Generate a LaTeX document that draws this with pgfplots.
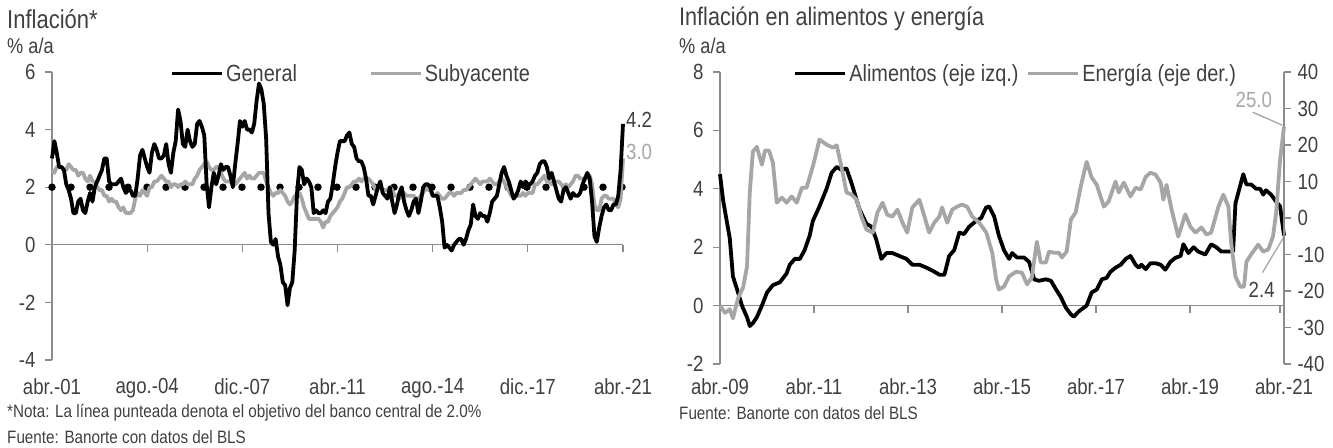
\documentclass[border=0pt]{standalone}
\usepackage{fontspec}
\setmainfont[FakeStretch=0.85]{Liberation Sans}
\usepackage{pgfplots}
\usepackage{pgfplotstable}
\pgfplotsset{compat=1.18}
\definecolor{txt}{HTML}{404040}
\definecolor{axg}{HTML}{8C8C8C}
\definecolor{lg}{HTML}{A6A6A6}

% Headline CPI, % y/y, monthly from Apr-2001 to Apr-2021
\pgfplotstableread[row sep=\\]{g\\
3.0\\3.6\\3.2\\2.7\\2.7\\2.6\\2.1\\1.9\\1.6\\
1.1\\1.1\\1.5\\1.6\\1.2\\1.1\\1.5\\1.8\\1.5\\2.0\\2.2\\2.4\\
2.6\\3.0\\3.0\\2.2\\2.1\\2.1\\2.1\\2.2\\2.3\\2.0\\1.8\\1.9\\
1.9\\1.7\\1.7\\2.3\\3.1\\3.3\\3.0\\2.7\\2.5\\3.2\\3.5\\3.3\\
3.0\\3.0\\3.1\\3.5\\2.8\\2.5\\3.2\\3.6\\4.7\\4.3\\3.5\\3.4\\
4.0\\3.6\\3.4\\3.5\\4.2\\4.3\\4.1\\3.8\\2.1\\1.3\\2.0\\2.5\\
2.1\\2.4\\2.8\\2.6\\2.7\\2.7\\2.4\\2.0\\2.8\\3.5\\4.3\\4.1\\
4.3\\4.0\\4.0\\3.9\\4.2\\5.0\\5.6\\5.4\\4.9\\3.7\\1.1\\0.1\\
0.0\\0.2\\-0.4\\-0.7\\-1.3\\-1.4\\-2.1\\-1.5\\-1.3\\-0.2\\1.8\\2.7\\
2.6\\2.1\\2.3\\2.2\\2.0\\1.1\\1.2\\1.1\\1.1\\1.2\\1.1\\1.5\\
1.6\\2.1\\2.7\\3.2\\3.6\\3.6\\3.6\\3.8\\3.9\\3.5\\3.4\\3.0\\
2.9\\2.9\\2.7\\2.3\\1.7\\1.7\\1.4\\1.7\\2.0\\2.2\\1.8\\1.7\\
1.6\\2.0\\1.5\\1.1\\1.4\\1.8\\2.0\\1.5\\1.2\\1.0\\1.2\\1.5\\
1.6\\1.1\\1.5\\2.0\\2.1\\2.1\\2.0\\1.7\\1.7\\1.7\\1.3\\0.8\\
-0.1\\0.0\\-0.1\\-0.2\\0.0\\0.1\\0.2\\0.2\\0.0\\0.2\\0.5\\0.7\\
1.4\\1.0\\0.9\\1.1\\1.0\\1.0\\0.8\\1.1\\1.5\\1.6\\1.7\\2.1\\
2.5\\2.7\\2.4\\2.2\\1.9\\1.6\\1.7\\1.9\\2.2\\2.0\\2.2\\2.1\\
2.1\\2.2\\2.4\\2.5\\2.8\\2.9\\2.9\\2.7\\2.3\\2.5\\2.2\\1.9\\
1.6\\1.5\\1.9\\2.0\\1.8\\1.6\\1.8\\1.7\\1.7\\1.8\\2.1\\2.3\\
2.5\\2.3\\1.5\\0.3\\0.1\\0.6\\1.0\\1.3\\1.4\\1.2\\1.2\\1.4\\
1.4\\1.7\\2.6\\4.2\\
}\general

% Core CPI, % y/y, monthly from Apr-2001 to Apr-2021
\pgfplotstableread[row sep=\\]{c\\
2.6\\2.5\\2.7\\2.7\\2.7\\2.6\\2.6\\2.8\\2.7\\
2.6\\2.6\\2.4\\2.5\\2.5\\2.3\\2.2\\2.4\\2.2\\2.2\\2.0\\1.9\\
1.9\\1.7\\1.7\\1.5\\1.6\\1.5\\1.5\\1.3\\1.2\\1.3\\1.1\\1.1\\
1.1\\1.2\\1.6\\1.8\\1.7\\1.9\\1.8\\1.7\\2.0\\2.0\\2.2\\2.2\\
2.3\\2.4\\2.3\\2.2\\2.2\\2.0\\2.1\\2.1\\2.0\\2.1\\2.1\\2.2\\
2.1\\2.1\\2.1\\2.3\\2.4\\2.6\\2.7\\2.8\\2.9\\2.7\\2.6\\2.6\\
2.7\\2.7\\2.5\\2.3\\2.2\\2.2\\2.2\\2.1\\2.1\\2.2\\2.3\\2.4\\
2.5\\2.3\\2.4\\2.3\\2.3\\2.4\\2.5\\2.5\\2.5\\2.2\\2.0\\1.8\\
1.7\\1.8\\1.8\\1.9\\1.8\\1.7\\1.5\\1.4\\1.5\\1.7\\1.7\\1.8\\
1.6\\1.3\\1.1\\0.9\\0.9\\0.9\\0.9\\0.9\\0.8\\0.6\\0.8\\0.8\\
1.0\\1.1\\1.2\\1.3\\1.5\\1.6\\1.8\\2.0\\2.0\\2.1\\2.2\\2.2\\
2.3\\2.2\\2.3\\2.3\\2.3\\2.2\\2.1\\1.9\\2.0\\2.0\\1.9\\1.9\\
1.9\\2.0\\1.9\\1.7\\1.7\\1.6\\1.7\\1.8\\1.7\\1.7\\1.7\\1.7\\
1.6\\1.6\\1.7\\1.8\\2.0\\1.9\\1.9\\1.7\\1.7\\1.8\\1.7\\1.6\\
1.6\\1.7\\1.8\\1.8\\1.7\\1.8\\1.8\\1.8\\1.9\\1.9\\2.0\\2.1\\
2.2\\2.3\\2.2\\2.1\\2.2\\2.2\\2.2\\2.3\\2.2\\2.1\\2.1\\2.2\\
2.3\\2.2\\2.0\\1.9\\1.7\\1.7\\1.7\\1.7\\1.7\\1.8\\1.7\\1.8\\
1.8\\1.8\\2.1\\2.1\\2.2\\2.3\\2.4\\2.2\\2.2\\2.1\\2.2\\2.2\\
2.2\\2.1\\2.0\\2.1\\2.0\\2.1\\2.2\\2.4\\2.4\\2.3\\2.3\\2.3\\
2.3\\2.4\\2.1\\1.4\\1.2\\1.2\\1.6\\1.7\\1.7\\1.6\\1.6\\1.6\\
1.4\\1.3\\1.6\\3.0\\
}\core

\pgfplotsset{
  base/.style={
    scale only axis, clip=false,
    axis line style={axg, line width=1.3bp, -},
    tick style={axg, line width=1.3bp},
    tick align=outside, major tick length=7bp,
    ticklabel style={text=txt, font=\fontsize{22}{22}\selectfont},
    legend style={draw=none, fill=none, inner sep=0pt, legend columns=-1,
      font=\fontsize{23.5}{23.5}\selectfont, text=txt,
      nodes={inner sep=2bp}},
    legend cell align=left,
    legend image code/.code={\draw[##1] (0bp,0bp) -- (50bp,0bp);},
  },
}

\begin{document}
\begin{tikzpicture}
\useasboundingbox (0bp,0bp) rectangle (1333bp,-448bp);

% ---------- Left panel ----------
\node[anchor=west, inner sep=0pt, text=txt, font=\fontsize{26}{26}\selectfont] at (7bp,-19bp) {Inflación*};
\node[anchor=west, inner sep=0pt, text=txt, font=\fontsize{21.5}{21.5}\selectfont] at (7bp,-46bp) {\% a/a};
\node[anchor=west, inner sep=0pt, text=txt, font=\fontsize{18}{18}\selectfont] at (7bp,-413bp) {*Nota: La línea punteada denota el objetivo del banco central de 2.0\%};
\node[anchor=west, inner sep=0pt, text=txt, font=\fontsize{18}{18}\selectfont] at (7bp,-437bp) {Fuente: Banorte con datos del BLS};

\begin{axis}[base,
  at={(52bp,-360bp)}, anchor=south west,
  width=571bp, height=288bp,
  xmin=0, xmax=240, ymin=-4, ymax=6,
  axis y line*=left, axis x line*=bottom,
  x axis line style={draw=none},
  xtick={0,40,80,120,160,200,240},
  xticklabels={abr.-01,ago.-04,dic.-07,abr.-11,ago.-14,dic.-17,abr.-21},
  x tick style={draw=none},
  xticklabel style={yshift=-8bp},
  ytick={-4,-2,0,2,4,6},
  yticklabels={-4,-2,0,2,4,6},
  yticklabel style={xshift=-6bp},
  legend style={at={(0.207,0.995)}, anchor=west,
    /tikz/every even column/.append style={column sep=70bp}},
]
\draw[axg, line width=1.3bp] (axis cs:0,0) -- (axis cs:240,0);
\draw[axg, line width=1.3bp] (axis cs:40,0) -- ++(0bp,-7bp);
\draw[axg, line width=1.3bp] (axis cs:80,0) -- ++(0bp,-7bp);
\draw[axg, line width=1.3bp] (axis cs:120,0) -- ++(0bp,-7bp);
\draw[axg, line width=1.3bp] (axis cs:160,0) -- ++(0bp,-7bp);
\draw[axg, line width=1.3bp] (axis cs:200,0) -- ++(0bp,-7bp);
\draw[axg, line width=1.3bp] (axis cs:240,0) -- ++(0bp,-7bp);
\addplot[black, line width=7.5bp, line cap=round, dash pattern=on 0bp off 19bp, forget plot] coordinates {(0,2) (240,2)};
\addplot[lg, line width=3.8bp, line join=round, forget plot] table[x expr=\coordindex, y=c] {\core};
\addplot[black, line width=3.8bp, line join=round, forget plot] table[x expr=\coordindex, y=g] {\general};
\addlegendimage{black, line width=3.8bp}
\addlegendentry{General}
\addlegendimage{lg, line width=3.8bp}
\addlegendentry{Subyacente}
\node[anchor=west, inner sep=0pt, text=txt, font=\fontsize{22}{22}\selectfont] at (axis cs:240,4.35) {\hspace{3bp}4.2};
\node[anchor=west, inner sep=0pt, text=lg, font=\fontsize{22}{22}\selectfont] at (axis cs:240,3.22) {\hspace{3bp}3.0};
\end{axis}

% ---------- Right panel ----------
\node[anchor=west, inner sep=0pt, text=txt, font=\fontsize{25.5}{25.5}\selectfont] at (679bp,-19bp) {Inflación en alimentos y energía};
\node[anchor=west, inner sep=0pt, text=txt, font=\fontsize{21.5}{21.5}\selectfont] at (679bp,-46bp) {\% a/a};
\node[anchor=west, inner sep=0pt, text=txt, font=\fontsize{18}{18}\selectfont] at (679bp,-413bp) {Fuente: Banorte con datos del BLS};

\begin{axis}[base,
  at={(720bp,-364bp)}, anchor=south west,
  width=564bp, height=292bp,
  xmin=0, xmax=144, ymin=-2, ymax=8,
  axis y line*=left, axis x line*=bottom,
  x axis line style={draw=none},
  xtick={0,24,48,72,96,120,144},
  xticklabels={abr.-09,abr.-11,abr.-13,abr.-15,abr.-17,abr.-19,abr.-21},
  x tick style={draw=none},
  xticklabel style={yshift=-4bp},
  ytick={-2,0,2,4,6,8},
  yticklabels={-2,0,2,4,6,8},
  yticklabel style={xshift=-6bp},
  legend style={at={(0.13,0.995)}, anchor=west,
    /tikz/every even column/.append style={column sep=6bp}},
]
\draw[axg, line width=1.3bp] (axis cs:0,0) -- (axis cs:144,0);
\draw[axg, line width=1.3bp] (axis cs:24,0) -- ++(0bp,-7bp);
\draw[axg, line width=1.3bp] (axis cs:48,0) -- ++(0bp,-7bp);
\draw[axg, line width=1.3bp] (axis cs:72,0) -- ++(0bp,-7bp);
\draw[axg, line width=1.3bp] (axis cs:96,0) -- ++(0bp,-7bp);
\draw[axg, line width=1.3bp] (axis cs:120,0) -- ++(0bp,-7bp);
\draw[axg, line width=1.3bp] (axis cs:143,0) -- ++(0bp,-7bp);
\addplot[black, line width=3.8bp, line join=round, forget plot] coordinates {
(0,4.5)(0.8,3.6)(2.5,2.3)(3.3,1.0)(4.6,0.45)(5.6,0.0)(6.9,-0.4)(7.6,-0.7)(8.4,-0.6)(9.4,-0.4)
(10.7,0.0)(12,0.45)(13.5,0.7)(15.3,0.8)(17,1.1)(17.8,1.4)(19.1,1.6)(20.4,1.6)(21.6,1.9)(22.9,2.4)
(23.7,2.9)(25.4,3.4)(27.2,4.0)(28.5,4.55)(29.8,4.75)(31,4.65)(32.3,4.7)(33.8,4.1)(35.6,3.3)(37.4,2.8)
(38.7,2.7)(39.9,2.26)(41.2,1.6)(42.5,1.8)(44,1.8)(45.8,1.7)(47.6,1.6)(49.1,1.4)(50.9,1.4)(52.7,1.3)
(54.2,1.2)(56,1.06)(57.3,1.06)(58.5,1.7)(59.8,1.9)(61.1,2.5)(62.3,2.45)(63.6,2.7)(65.4,2.9)(66.7,3.0)
(67.9,3.35)(68.7,3.4)(70,3.05)(71.2,2.4)(72.5,1.9)(73.8,1.6)(74.6,1.8)(75.8,1.65)(77.6,1.65)(78.9,1.5)
(80.2,0.9)(81.4,0.85)(83.2,0.9)(84.5,0.85)(85.8,0.55)(87,0.3)(88.3,-0.07)(89.6,-0.3)(90.3,-0.38)(91.6,-0.2)
(92.9,-0.07)(93.6,0.0)(94.9,0.45)(96.2,0.55)(97.5,0.9)(98.7,0.95)(99.7,1.16)(101,1.3)(102.3,1.4)(103.6,1.6)
(104.8,1.7)(106.1,1.4)(106.9,1.3)(107.6,1.4)(108.7,1.25)(109.9,1.45)(111.2,1.45)(112.5,1.4)(113.7,1.23)(115,1.5)
(116.3,1.64)(117.6,1.7)(118.3,2.1)(119.6,1.8)(120.9,2.0)(122.1,1.85)(123.9,1.75)(125.4,2.1)(126.7,2.0)(128,1.85)
(129.8,1.85)(131,1.85)(131.6,3.5)(132.8,4.1)(133.6,4.5)(134.4,4.15)(135.6,4.15)(136.9,4.0)(137.9,4.0)(138.7,3.8)
(139.4,3.95)(140.7,3.8)(142,3.56)(143,3.4)(144,2.4)};
\addlegendimage{black, line width=3.8bp}
\addlegendentry{Alimentos (eje izq.)}
\addlegendimage{lg, line width=3.8bp}
\addlegendentry{Energía (eje der.)}
\draw[lg, line width=1.3bp] (axis cs:138.5,1.13) -- (axis cs:144,2.36);
\node[inner sep=0pt, text=txt, font=\fontsize{22}{22}\selectfont] at (axis cs:138.3,0.55) {2.4};
\end{axis}

\begin{axis}[base,
  at={(720bp,-364bp)}, anchor=south west,
  width=564bp, height=292bp,
  xmin=0, xmax=144, ymin=-40, ymax=40,
  axis y line*=right, axis x line=none,
  ytick={-40,-30,-20,-10,0,10,20,30,40},
  yticklabels={-40,-30,-20,-10,0,10,20,30,40},
  yticklabel style={xshift=3bp},
]
\addplot[lg, line width=3.8bp, line join=round] coordinates {
(0,-24)(1.3,-26)(2.5,-25)(3.3,-27.5)(4.6,-22)(5.9,-19)(6.9,-13.3)(7.6,7)(8.4,18.2)(9.4,19.5)
(10.7,14.6)(11.5,18.5)(12.5,18.5)(13.5,15.2)(14.5,4.2)(15.8,5.6)(17,4.2)(18.3,5.9)(19.6,4.2)(20.9,8.3)
(22.1,8.3)(23.7,14.1)(25.4,21.5)(27.2,20.1)(28.8,19.3)(29.8,19.9)(31,14.1)(32.3,7)(33.6,6.4)(34.9,5)
(36.1,0.4)(37.4,-3.2)(39,-4)(40.2,1.5)(41.5,4.2)(42.7,0.9)(44,0.4)(45.3,2.3)(46.6,-1.3)(47.8,-4)
(49.1,2.9)(50.9,5)(52.2,0.4)(53.4,-4)(54.7,-1.3)(56,0.4)(56.7,2.9)(58,-1.3)(59.3,2.3)(60.5,3.1)
(61.8,3.7)(63.1,3.1)(64.4,0.4)(66.2,-1.3)(68,-4)(69.5,-9.5)(70.5,-16.8)(71.2,-19.6)(72.5,-18.8)(73.8,-16)
(75.6,-14.7)(77.1,-15)(78.4,-18.2)(79.6,-16.3)(80.9,-6.5)(81.9,-12.2)(83.2,-12.2)(84,-9.2)(85.2,-9.5)(86.5,-9.5)
(87.3,-10.8)(88.5,-9.2)(89.6,-0.4)(90.8,1.5)(92.1,8.6)(93.6,15.4)(94.9,11.1)(96.2,9.1)(98,3.1)(99.2,4.5)
(101,10)(101.8,7)(103.1,9.7)(104.8,5.9)(106.1,8.3)(107.4,7.8)(108.7,11.3)(109.9,12.4)(111.2,11.9)(112.5,9.7)
(113.2,5)(114,9.1)(115.3,2.3)(117,-5.1)(118.8,1)(120.1,-2.4)(121.4,-4)(122.9,-2.6)(124.2,-4.5)(125.4,-4)
(127.2,2.9)(128.5,6.4)(129.8,3.1)(130.5,-6.7)(131.6,-16)(132.8,-18.8)(133.8,-18.8)(134.4,-12)(135.6,-10)(137.4,-7.3)
(138.7,-9.2)(140,-8.6)(141.2,-5)(142,1.5)(143,16)(144,25)};
\draw[lg, line width=1.3bp] (axis cs:136,29) -- (axis cs:143.6,25.4);
\node[inner sep=0pt, text=lg, font=\fontsize{22}{22}\selectfont] at (axis cs:136.3,32.3) {25.0};
\end{axis}
\end{tikzpicture}
\end{document}
